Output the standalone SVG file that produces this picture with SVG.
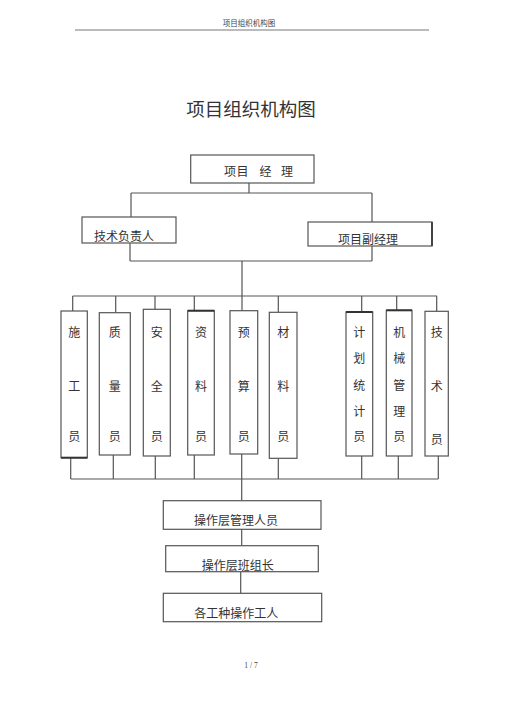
<svg xmlns="http://www.w3.org/2000/svg" width="505" height="715" viewBox="0 0 505 715">
<style>
.bx{fill:#fff;stroke:#555;stroke-width:1.2}
.ln{fill:none;stroke:#555;stroke-width:1.2}
.t{font-family:"Liberation Serif","Noto Sans CJK SC",serif;font-size:12px;fill:#333}
.tv{font-family:"Liberation Serif","Noto Sans CJK SC",serif;font-size:12px;fill:#333;text-anchor:middle}
.hd{font-family:"Liberation Serif","Noto Sans CJK SC",serif;font-size:7.5px;fill:#444;text-anchor:middle}
</style>
<rect width="505" height="715" fill="#fff"/>
<text class="hd" x="249" y="26">项目组织机构图</text>
<line x1="75" y1="30" x2="429" y2="30" stroke="#777" stroke-width="1"/>
<text x="251" y="116" font-family="'Noto Sans CJK SC',sans-serif" font-size="18.5" fill="#333" text-anchor="middle">项目组织机构图</text>
<g id="connectors">
<path class="ln" d="M249 183V193M131 193H372M131 193V217M372 193V222"/>
<path class="ln" d="M130 243V261M372 246V261M130 261H372M242 261V311"/>
<path class="ln" d="M72.7 296H437M72.7 296V311M115.7 296V312.7M155 296V309.3M194.3 296V310.7M278.3 296V312.3M361.7 296V312M396.7 296V310.3M436.7 296V311.3"/>
<path class="ln" d="M70.7 479H438.3M113.3 455V479M155.3 456V479M194.3 455V479M241.7 454V479M278.3 458.3V479M361.7 456V479M398.3 456V479M438.3 456V479"/>
<path class="ln" d="M70.7 457.7V479" stroke-width="2"/>
<path class="ln" d="M241.7 479V500.7M241.7 529.3V545.7M240.7 571.7V593.3"/>
</g>
<g id="pm"><rect class="bx" x="190.7" y="155" width="123.3" height="28"/><text class="t" y="176"><tspan x="224">项</tspan><tspan x="236.5">目</tspan><tspan x="259.5">经</tspan><tspan x="281">理</tspan></text></g>
<g id="tech-lead"><rect class="bx" x="82" y="217" width="94" height="26"/><text class="t" x="94" y="241">技术负责人</text></g>
<g id="deputy"><rect class="bx" x="308" y="222" width="124" height="24"/><line x1="432" y1="222" x2="432" y2="246" stroke="#444" stroke-width="2"/><text class="t" x="338" y="244">项目副经理</text></g>
<g id="n1"><rect class="bx" x="61" y="311" width="26.3" height="146.7"/><line x1="61" y1="457.7" x2="87.3" y2="457.7" stroke="#333" stroke-width="2"/><text class="tv" x="74.2" y="337">施</text><text class="tv" x="74.2" y="391">工</text><text class="tv" x="74.2" y="441">员</text></g>
<g id="n2"><rect class="bx" x="99.3" y="312.7" width="31" height="142.3"/><text class="tv" x="114.8" y="337">质</text><text class="tv" x="114.8" y="391">量</text><text class="tv" x="114.8" y="441">员</text></g>
<g id="n3"><rect class="bx" x="143.3" y="309.3" width="27" height="146.7"/><text class="tv" x="156.8" y="337">安</text><text class="tv" x="156.8" y="391">全</text><text class="tv" x="156.8" y="441">员</text></g>
<g id="n4"><rect class="bx" x="187.7" y="310.7" width="26.6" height="144.3"/><line x1="187.7" y1="310.7" x2="214.3" y2="310.7" stroke="#333" stroke-width="2"/><text class="tv" x="201" y="337">资</text><text class="tv" x="201" y="391">料</text><text class="tv" x="201" y="441">员</text></g>
<g id="n5"><rect class="bx" x="230" y="310.7" width="27.7" height="143.3"/><text class="tv" x="243.8" y="337">预</text><text class="tv" x="243.8" y="391">算</text><text class="tv" x="243.8" y="441">员</text></g>
<g id="n6"><rect class="bx" x="269.3" y="312.3" width="27.7" height="146"/><text class="tv" x="283.2" y="337">材</text><text class="tv" x="283.2" y="391">料</text><text class="tv" x="283.2" y="441">员</text></g>
<g id="n7"><rect class="bx" x="346" y="312" width="26.7" height="144"/><line x1="346" y1="312" x2="372.7" y2="312" stroke="#333" stroke-width="2"/><text class="tv" x="359.3" y="337">计</text><text class="tv" x="359.3" y="363">划</text><text class="tv" x="359.3" y="390">统</text><text class="tv" x="359.3" y="416">计</text><text class="tv" x="359.3" y="441">员</text></g>
<g id="n8"><rect class="bx" x="386.3" y="310.3" width="25.7" height="145.7"/><line x1="386.3" y1="310.3" x2="412" y2="310.3" stroke="#333" stroke-width="2"/><text class="tv" x="399.2" y="337">机</text><text class="tv" x="399.2" y="363">械</text><text class="tv" x="399.2" y="390">管</text><text class="tv" x="399.2" y="416">理</text><text class="tv" x="399.2" y="441">员</text></g>
<g id="n9"><rect class="bx" x="425" y="311.3" width="23.3" height="144.7"/><text class="tv" x="436.7" y="337" font-size="11">技</text><text class="tv" x="436.7" y="391" font-size="11">术</text><text class="tv" x="436.7" y="444" font-size="11">员</text></g>
<g id="op-mgr"><rect class="bx" x="163.3" y="500.7" width="157.7" height="28.6"/><text class="t" x="194" y="525">操作层管理人员</text></g>
<g id="team-lead"><rect class="bx" x="165.7" y="545.7" width="152.6" height="26"/><text class="t" x="201.7" y="570">操作层班组长</text></g>
<g id="workers"><rect class="bx" x="163.3" y="593.3" width="158.4" height="28.4"/><text class="t" x="194.3" y="618">各工种操作工人</text></g>
<text class="hd" x="251" y="668">1 / 7</text>
</svg>
